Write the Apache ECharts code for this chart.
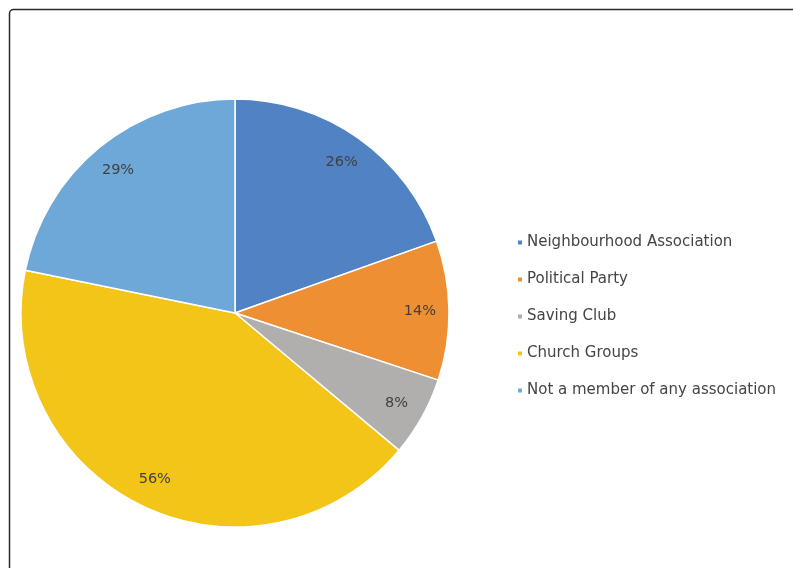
<!DOCTYPE html>
<html>
<head>
<meta charset="utf-8">
<script src="https://cdn.jsdelivr.net/npm/echarts@6/dist/echarts.min.js"></script>
<style>html,body{margin:0;padding:0;background:#fff;}#c{width:793px;height:568px;}</style>
</head>
<body>
<div id="c"></div>
<script>
const categories = ['Neighbourhood Association', 'Political Party', 'Saving Club', 'Church Groups', 'Not a member of any association'];
const values = [26, 14, 8, 56, 29];
const colors = ['#5082C4', '#EF8F34', '#B0AFAE', '#F3C518', '#6EA8D8'];

const data = categories.map((n, i) => ({ name: n, value: values[i], itemStyle: { color: colors[i] } }));
const chart = echarts.init(document.getElementById('c'), null, { renderer: 'canvas' });
const R = 214;
const FONT = 'DejaVu Sans, sans-serif';
chart.setOption({
  animation: false,
  color: colors,
  graphic: [{
    type: 'rect',
    shape: { x: 9.5, y: 9.5, width: 820, height: 600, r: 4 },
    style: { fill: 'none', stroke: '#2a2a2a', lineWidth: 1.5 },
    silent: true
  }],
  legend: {
    orient: 'vertical',
    left: 511,
    top: 230,
    icon: 'rect',
    itemWidth: 6,
    itemHeight: 6,
    itemGap: 22,
    textStyle: { fontFamily: FONT, fontSize: 15, color: '#444', padding: [0, 0, 0, -1] },
    data: categories
  },
  series: [{
    type: 'pie',
    center: [235, 313],
    radius: [0, R],
    startAngle: 90,
    clockwise: true,
    itemStyle: { borderColor: '#fff', borderWidth: 1.5 },
    label: { show: false },
    labelLine: { show: false },
    emphasis: { disabled: true },
    data: data
  }, {
    type: 'pie',
    center: [235, 313],
    radius: [R * 0.7, R],
    startAngle: 90,
    clockwise: true,
    silent: true,
    itemStyle: { color: 'rgba(0,0,0,0)', borderWidth: 0 },
    label: {
      show: true,
      position: 'inside',
      formatter: p => p.value + '%',
      fontFamily: FONT,
      fontSize: 14.5,
      color: '#404040'
    },
    labelLine: { show: false },
    emphasis: { disabled: true },
    data: categories.map((n, i) => ({ name: n, value: values[i] }))
  }]
});
</script>
</body>
</html>
